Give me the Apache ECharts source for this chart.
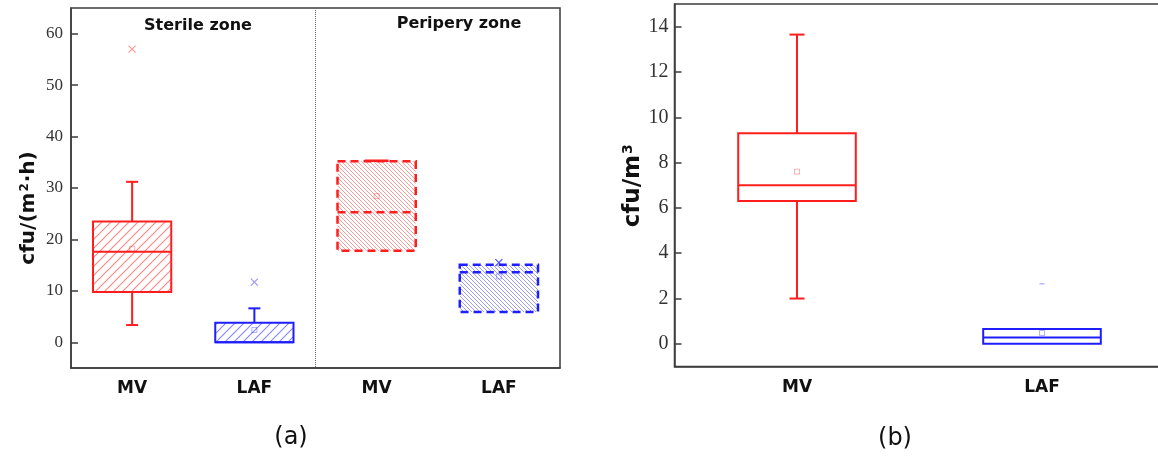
<!DOCTYPE html>
<html>
<head>
<meta charset="utf-8">
<script src="https://cdn.jsdelivr.net/npm/echarts@6/dist/echarts.min.js"></script>
<style>
  html, body { margin: 0; padding: 0; background: #fff; }
  #main { width: 1158px; height: 457px; }
</style>
</head>
<body>
<div id="main"></div>
<script>
// (a) settle plate counts, cfu/(m2.h)
var catsA = ['MV', 'LAF', 'MV', 'LAF'];
// [low whisker, Q1, median, Q3, high whisker]
var sterileMV = [3.35, 9.8, 17.6, 23.5, 31.2];
var sterileLAF = [0, 0, 0, 3.8, 6.6];
var periMV = [17.8, 17.8, 25.3, 35.2, 35.3];
var periLAF = [5.9, 5.9, 13.6, 15.1, 15.1];
var meanA = [18.2, 2.4, 28.4, 12.8];
var outlierA = [[0, 57.0], [1, 11.7], [3, 15.5]];
var ticksA = [0, 10, 20, 30, 40, 50, 60];

// (b) air samples, cfu/m3
var catsB = ['MV', 'LAF'];
var bMV = [2.0, 6.3, 7.0, 9.3, 13.65];
var bLAF = [0, 0, 0.28, 0.66, 0.66];
var meanB = [7.6, 0.48];
var outlierB = [[1, 2.65]];
var ticksB = [0, 2, 4, 6, 8, 10, 12, 14];

var RED = '#ff1e1e', BLUE = '#1e1eff';

function hatch(color, step, dir, lw) {
  var c = document.createElement('canvas');
  c.width = c.height = step;
  var g = c.getContext('2d');
  g.strokeStyle = color;
  g.lineWidth = lw;
  g.beginPath();
  if (dir > 0) {
    g.moveTo(0, step); g.lineTo(step, 0);
    g.moveTo(-1, 1); g.lineTo(1, -1);
    g.moveTo(step - 1, step + 1); g.lineTo(step + 1, step - 1);
  } else {
    g.moveTo(0, 0); g.lineTo(step, step);
    g.moveTo(step - 1, -1); g.lineTo(step + 1, 1);
    g.moveTo(-1, step - 1); g.lineTo(1, step + 1);
  }
  g.stroke();
  return { image: c, repeat: 'repeat' };
}

function boxRender(o) {
  return function (params, api) {
    var i = api.value(0);
    var x = api.coord([i, 0])[0];
    var band = api.size([1, 0])[0];
    var hw = band * o.ratio / 2;
    var y = function (k) { return api.coord([i, api.value(k)])[1]; };
    var yLow = y(1), yQ1 = y(2), yMed = y(3), yQ3 = y(4), yHigh = y(5);
    var col = o.colors[i];
    var ls = { stroke: col, lineWidth: o.lw, lineDash: o.dash || null };
    var kids = [
      { type: 'rect', shape: { x: x - hw, y: yQ3, width: hw * 2, height: yQ1 - yQ3 },
        style: { fill: o.fills ? o.fills[i] : 'none', stroke: col, lineWidth: o.lw, lineDash: o.dash || null } },
      { type: 'line', shape: { x1: x - hw, y1: yMed, x2: x + hw, y2: yMed }, style: ls }
    ];
    if (yHigh < yQ3 - 0.5) {
      kids.push({ type: 'line', shape: { x1: x, y1: yQ3, x2: x, y2: yHigh }, style: { stroke: col, lineWidth: o.lw } });
      kids.push({ type: 'line', shape: { x1: x - o.cap, y1: yHigh, x2: x + o.cap, y2: yHigh }, style: { stroke: col, lineWidth: o.lw } });
    }
    if (yLow > yQ1 + 0.5) {
      kids.push({ type: 'line', shape: { x1: x, y1: yQ1, x2: x, y2: yLow }, style: { stroke: col, lineWidth: o.lw } });
      kids.push({ type: 'line', shape: { x1: x - o.cap, y1: yLow, x2: x + o.cap, y2: yLow }, style: { stroke: col, lineWidth: o.lw } });
    }
    return { type: 'group', children: kids };
  };
}

var boxA = [sterileMV, sterileLAF, periMV, periLAF].map(function (b, i) { return [i].concat(b); });
var boxB = [bMV, bLAF].map(function (b, i) { return [i].concat(b); });

var axisLine = { onZero: false, lineStyle: { color: '#3c3c3c', width: 1.5 } };
var serif = 'Liberation Serif';
var sans = 'DejaVu Sans';
var xSymbol = 'path://M0,0L10,10M10,0L0,10';

var option = {
  animation: false,
  backgroundColor: '#fff',
  grid: [
    { left: 71, top: 8, width: 489, height: 360, show: true, borderColor: '#3c3c3c', borderWidth: 1.5, outerBoundsMode: 'none' },
    { left: 674.5, top: 4, width: 490, height: 362.5, show: true, borderColor: '#3c3c3c', borderWidth: 1.5, outerBoundsMode: 'none' }
  ],
  xAxis: [
    { gridIndex: 0, type: 'category', data: catsA, axisLine: axisLine,
      axisTick: { alignWithLabel: true, inside: true, length: 8, lineStyle: { color: '#3c3c3c', width: 1.5 } },
      axisLabel: { margin: 12, color: '#111', fontFamily: sans, fontWeight: 'bold', fontSize: 17 },
      splitLine: { show: true, interval: 1, lineStyle: { color: '#666', width: 1, type: 'dotted' } } },
    { gridIndex: 1, type: 'category', data: catsB, axisLine: axisLine,
      axisTick: { alignWithLabel: true, inside: true, length: 8, lineStyle: { color: '#3c3c3c', width: 1.5 } },
      axisLabel: { margin: 13, color: '#111', fontFamily: sans, fontWeight: 'bold', fontSize: 17 } }
  ],
  yAxis: [
    { gridIndex: 0, type: 'value', min: -5, max: 65, axisLine: Object.assign({ show: true }, axisLine),
      axisTick: { show: true, inside: true, length: 7, customValues: ticksA, lineStyle: { color: '#3c3c3c', width: 1.5 } },
      axisLabel: { customValues: ticksA, margin: 8, color: '#333', fontFamily: serif, fontSize: 17 },
      splitLine: { show: false },
      name: '{a|cfu/(m}{s|2}{a|·h)}', nameLocation: 'middle', nameRotate: 90, nameGap: 32,
      nameTextStyle: { padding: [0, 40, 0, 0], rich: {
        a: { fontFamily: sans, fontWeight: 'bold', fontSize: 20, color: '#111' },
        s: { fontFamily: sans, fontWeight: 'bold', fontSize: 12, color: '#111', verticalAlign: 'top', padding: [0, 1, 8, 1] } } } },
    { gridIndex: 1, type: 'value', min: -1, max: 15, axisLine: Object.assign({ show: true }, axisLine),
      axisTick: { show: true, inside: true, length: 7, customValues: ticksB, lineStyle: { color: '#3c3c3c', width: 1.5 } },
      axisLabel: { customValues: ticksB, margin: 6, color: '#333', fontFamily: serif, fontSize: 20 },
      splitLine: { show: false },
      name: '{a|cfu/m}{s|3}', nameLocation: 'middle', nameRotate: 90, nameGap: 29,
      nameTextStyle: { rich: {
        a: { fontFamily: sans, fontWeight: 'bold', fontSize: 23, color: '#111' },
        s: { fontFamily: sans, fontWeight: 'bold', fontSize: 14, color: '#111', verticalAlign: 'top', padding: [0, 1, 10, 1] } } } }
  ],
  graphic: [
    { type: 'text', x: 198, y: 26, style: { text: 'Sterile zone', font: 'bold 16px "DejaVu Sans"', fill: '#111', align: 'center', verticalAlign: 'middle' } },
    { type: 'text', x: 459, y: 24, style: { text: 'Peripery zone', font: 'bold 16px "DejaVu Sans"', fill: '#111', align: 'center', verticalAlign: 'middle' } },
    { type: 'text', x: 291, y: 438, style: { text: '(a)', font: '24px "DejaVu Sans"', fill: '#111', align: 'center', verticalAlign: 'middle' } },
    { type: 'text', x: 895, y: 439, style: { text: '(b)', font: '24px "DejaVu Sans"', fill: '#111', align: 'center', verticalAlign: 'middle' } }
  ],
  series: [
    { type: 'custom', xAxisIndex: 0, yAxisIndex: 0, data: boxA.slice(0, 2),
      encode: { x: 0, y: [1, 2, 3, 4, 5] },
      renderItem: boxRender({ ratio: 0.64, lw: 2, cap: 6, colors: [RED, BLUE],
        fills: [hatch('rgba(255,40,40,0.55)', 9, 1, 1.2), hatch('rgba(40,40,255,0.55)', 9, 1, 1.2)] }) },
    { type: 'custom', xAxisIndex: 0, yAxisIndex: 0, data: boxA.slice(2),
      encode: { x: 0, y: [1, 2, 3, 4, 5] },
      renderItem: boxRender({ ratio: 0.64, lw: 2.5, cap: 12, dash: [8, 5], colors: [RED, BLUE, RED, BLUE],
        fills: [null, null, hatch('rgba(255,60,60,0.5)', 4, -1, 1), hatch('rgba(60,60,255,0.5)', 4, -1, 1)] }) },
    { type: 'scatter', xAxisIndex: 0, yAxisIndex: 0, symbol: 'rect', symbolSize: 5,
      data: meanA.map(function (v, i) { return { value: [i, v], itemStyle: { borderColor: i % 2 ? 'rgba(40,40,255,0.45)' : 'rgba(255,40,40,0.45)' } }; }),
      itemStyle: { color: 'rgba(0,0,0,0)', borderWidth: 1 } },
    { type: 'scatter', xAxisIndex: 0, yAxisIndex: 0, symbol: xSymbol, symbolSize: 7,
      data: outlierA.map(function (p) { return { value: p, itemStyle: { borderColor: p[0] === 3 ? BLUE : (p[0] % 2 ? 'rgba(40,40,255,0.6)' : 'rgba(255,40,40,0.6)') } }; }),
      itemStyle: { color: 'none', borderWidth: 1.2 } },
    { type: 'custom', xAxisIndex: 1, yAxisIndex: 1, data: boxB,
      encode: { x: 0, y: [1, 2, 3, 4, 5] },
      renderItem: boxRender({ ratio: 0.48, lw: 2, cap: 7.5, colors: [RED, BLUE] }) },
    { type: 'scatter', xAxisIndex: 1, yAxisIndex: 1, symbol: 'rect', symbolSize: 5,
      data: meanB.map(function (v, i) { return { value: [i, v], itemStyle: { borderColor: i ? 'rgba(40,40,255,0.45)' : 'rgba(255,40,40,0.45)' } }; }),
      itemStyle: { color: 'rgba(0,0,0,0)', borderWidth: 1 } },
    { type: 'scatter', xAxisIndex: 1, yAxisIndex: 1, symbol: 'rect', symbolSize: [5, 1.5],
      data: outlierB, itemStyle: { color: 'rgba(40,40,255,0.4)' } }
  ]
};

var chart = echarts.init(document.getElementById('main'));
chart.setOption(option);
</script>
</body>
</html>
